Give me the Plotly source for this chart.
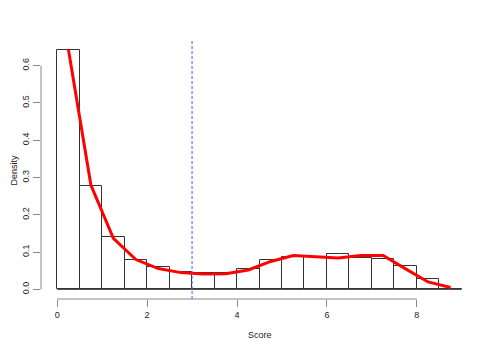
import plotly.graph_objects as go

# histogram of scores (density scale), bins of width 0.5
bin_left = [0.0, 0.5, 1.0, 1.5, 2.0, 2.5, 3.0, 3.5, 4.0, 4.5,
            5.0, 5.5, 6.0, 6.5, 7.0, 7.5, 8.0, 8.5]
bin_width = 0.5
hist_density = [0.643, 0.278, 0.140, 0.080, 0.060, 0.046, 0.043, 0.043, 0.054, 0.080,
                0.087, 0.087, 0.096, 0.084, 0.082, 0.064, 0.028, 0.002]

# smoothed density evaluated at bin midpoints
dens_x = [0.25, 0.75, 1.25, 1.75, 2.25, 2.75, 3.25, 3.75, 4.25, 4.75,
          5.25, 5.75, 6.25, 6.75, 7.25, 7.75, 8.25, 8.75]
dens_y = [0.643, 0.280, 0.137, 0.080, 0.056, 0.045, 0.041, 0.042, 0.052, 0.075,
          0.091, 0.088, 0.084, 0.091, 0.091, 0.055, 0.020, 0.005]

mean_score = 3.0
x_ticks = [0, 2, 4, 6, 8]
y_ticks = [0.0, 0.1, 0.2, 0.3, 0.4, 0.5, 0.6]

mids = [b + bin_width / 2 for b in bin_left]
x_lo, x_hi = bin_left[0], bin_left[-1] + bin_width
y_hi = max(hist_density)
xpad = 0.04 * (x_hi - x_lo)
ypad = 0.04 * y_hi

fig = go.Figure()
fig.add_trace(go.Bar(
    x=mids, y=hist_density, width=bin_width,
    marker=dict(color='white', line=dict(color='#333', width=1)),
    hoverinfo='skip'))
fig.add_trace(go.Scatter(
    x=dens_x, y=dens_y, mode='lines',
    line=dict(color='#ff0000', width=3)))

# baseline under bars
fig.add_shape(type='line', xref='x', yref='y', x0=x_lo, x1=x_hi, y0=0, y1=0,
              line=dict(color='#444', width=1))
# R-style axis lines spanning first to last tick
fig.add_shape(type='line', xref='x', yref='paper', x0=x_ticks[0], x1=x_ticks[-1],
              y0=0, y1=0, line=dict(color='#888', width=1))
fig.add_shape(type='line', xref='paper', yref='y', x0=0, x1=0,
              y0=y_ticks[0], y1=y_ticks[-1], line=dict(color='#888', width=1))
# mean line
fig.add_shape(type='line', xref='x', yref='paper', x0=mean_score, x1=mean_score,
              y0=0, y1=1, line=dict(color='#5555ff', width=1, dash='3px,2px'))

# page body has an 8px default margin, so the figure is 8px smaller
fig.update_layout(
    width=492, height=342,
    margin=dict(l=33, r=22, t=32, b=51),
    plot_bgcolor='white', paper_bgcolor='white',
    showlegend=False, bargap=0,
    font=dict(family='Liberation Sans, Arial, sans-serif', size=9, color='#222'),
    xaxis=dict(range=[x_lo - xpad, x_hi + xpad], tickvals=x_ticks,
               ticks='outside', ticklen=7, tickcolor='#888', automargin=False,
               showgrid=False, zeroline=False, showline=False),
    yaxis=dict(range=[-ypad, y_hi + ypad], tickvals=y_ticks, tickformat='.1f',
               ticks='outside', ticklen=7, tickcolor='#888', tickangle=-90,
               automargin=False,
               showgrid=False, zeroline=False, showline=False),
    annotations=[
        dict(text='Score', xref='paper', yref='paper', x=0.5, y=-0.139,
             showarrow=False, xanchor='center', yanchor='middle'),
        dict(text='Density', xref='paper', yref='paper', x=-0.062, y=0.5,
             showarrow=False, textangle=-90, xanchor='center', yanchor='middle'),
    ],
)

fig.write_html('out.html')
